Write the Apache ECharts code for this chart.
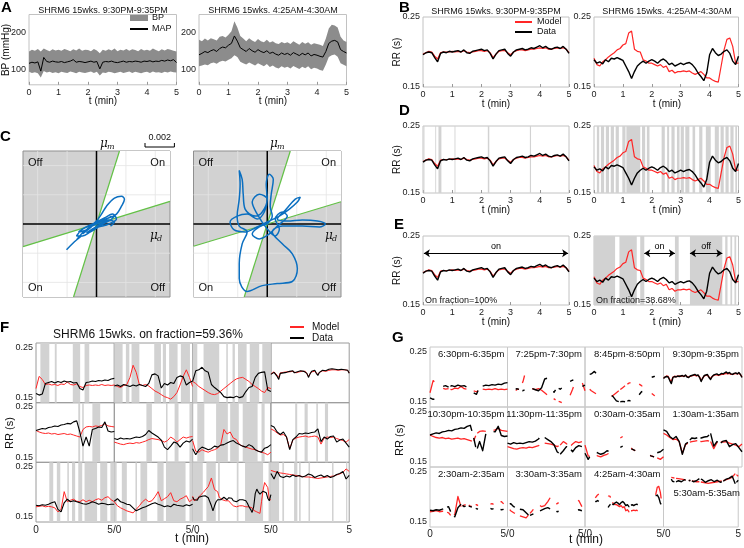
<!DOCTYPE html>
<html><head><meta charset="utf-8">
<script src="https://cdn.jsdelivr.net/npm/echarts@6/dist/echarts.min.js"></script>
<style>html,body{margin:0;padding:0;background:#fff}#c{width:744px;height:548px}</style>
</head><body><div id="c"></div>
<script>
// ================= DATA =================
// sample times (min)
const t51 = Array.from({length:51}, (_, i) => +(i * 0.1).toFixed(1));
const t26 = Array.from({length:26}, (_, i) => +(i * 0.2).toFixed(1));

// Panel A: blood pressure (mmHg)
const aMapNight = [118,121,119,122,97,134,123,121,124,122,121,123,120,122,124,128,121,123,122,120,122,124,121,123,103,121,123,122,124,121,120,122,124,121,123,122,124,123,121,124,123,125,122,124,123,126,124,127,125,128,120];
const aBpHighNight = [150,155,152,157,150,158,154,151,156,153,155,152,157,154,151,156,153,158,152,155,154,151,157,153,145,155,152,156,153,158,151,155,153,157,152,156,154,151,157,153,155,152,158,154,151,156,153,157,155,152,150];
const aBpLowNight = [95,92,94,91,80,97,93,95,92,94,91,95,93,92,96,94,91,95,93,92,94,96,92,95,85,93,92,95,94,91,93,95,92,94,96,92,95,93,91,94,95,92,96,93,94,92,95,93,96,94,93];
const aMapDawn = [141,145,150,147,152,155,150,158,162,160,167,172,192,178,160,155,150,158,152,148,155,150,147,152,145,148,143,140,146,142,145,140,147,143,139,145,141,146,138,142,140,137,135,150,172,178,180,176,155,150,146];
const aBpHighDawn = [182,178,185,180,186,183,180,190,192,188,195,205,232,215,192,185,178,186,180,176,184,178,175,182,174,178,172,170,176,172,175,170,178,173,168,176,171,175,168,172,170,168,165,185,212,222,220,215,190,180,176];
const aBpLowDawn = [110,112,115,113,118,120,117,122,125,123,128,132,140,135,122,118,115,120,116,112,118,114,110,116,108,112,107,104,110,106,109,104,111,107,103,109,105,110,102,106,104,100,98,115,135,140,142,136,118,114,110];

// Panels B/D/E: RR interval (s)
const rrDataNight = [0.196,0.199,0.200,0.199,0.192,0.186,0.198,0.200,0.199,0.201,0.200,0.201,0.202,0.200,0.203,0.199,0.198,0.201,0.202,0.203,0.204,0.202,0.203,0.198,0.190,0.197,0.202,0.203,0.204,0.198,0.194,0.200,0.203,0.204,0.205,0.203,0.204,0.206,0.205,0.207,0.209,0.206,0.208,0.205,0.204,0.206,0.207,0.205,0.208,0.204,0.198];
const rrModelNight = [0.197,0.199,0.201,0.200,0.194,0.190,0.199,0.200,0.200,0.200,0.201,0.200,0.201,0.200,0.202,0.200,0.199,0.200,0.201,0.202,0.202,0.201,0.202,0.199,0.192,0.197,0.201,0.202,0.202,0.199,0.196,0.200,0.202,0.203,0.203,0.202,0.203,0.204,0.204,0.205,0.206,0.205,0.206,0.204,0.204,0.205,0.206,0.205,0.206,0.204,0.199];
const rrDataDawn = [0.189,0.184,0.186,0.183,0.189,0.186,0.191,0.190,0.192,0.190,0.188,0.180,0.172,0.162,0.172,0.180,0.184,0.187,0.184,0.187,0.189,0.187,0.184,0.188,0.190,0.187,0.182,0.184,0.180,0.182,0.184,0.182,0.184,0.185,0.182,0.177,0.170,0.165,0.159,0.170,0.196,0.205,0.199,0.195,0.197,0.201,0.203,0.198,0.187,0.182,0.194];
const rrModelDawn = [0.191,0.182,0.180,0.186,0.189,0.193,0.196,0.199,0.203,0.205,0.210,0.212,0.227,0.230,0.204,0.201,0.200,0.189,0.187,0.184,0.184,0.182,0.180,0.182,0.178,0.180,0.172,0.174,0.170,0.172,0.172,0.173,0.172,0.173,0.170,0.168,0.170,0.172,0.168,0.163,0.163,0.160,0.158,0.157,0.180,0.203,0.218,0.220,0.208,0.184,0.184];

// Off (grey) intervals, min
const dNightOff = [[0.02,0.05],[0.42,0.45],[0.53,0.63],[1.08,1.11],[2.22,2.27],[3.66,3.70]];
const dDawnOff = [[0.10,0.18],[0.24,0.35],[0.41,0.52],[0.58,0.69],[0.75,0.86],[0.98,1.09],[1.12,1.60],[1.66,1.77],[1.83,1.92],[2.34,2.45],[2.53,2.60],[2.68,2.79],[2.87,2.96],[3.00,3.11],[3.16,3.30],[3.41,3.50],[3.64,3.75],[3.87,4.04],[4.18,4.32],[4.38,4.49],[4.55,4.66],[4.72,4.83],[4.89,4.95]];
const eNightOff = [];
const eDawnOff = [[0,0.73],[0.88,1.48],[1.60,1.74],[2.80,2.93],[3.32,4.44],[4.54,4.62],[4.72,4.78],[4.86,4.92]];
const eNightArrows = [{from:0.03, to:4.97, label:'on'}];
const eDawnArrows = [{from:1.74, to:2.80, label:'on'}, {from:3.32, to:4.44, label:'off'}];

// Panel C: phase-plane trajectories (units of 1e-3) and boundary slopes
const cNightX = [-2.04,-1.50,-1.02,-1.36,-0.82,-0.34,-0.95,-0.54,0,0.68,1.02,0.82,1.36,1.70,1.90,1.70,1.22,0.68,0.34,0,-0.41,-0.68,-1.22,-0.82,-0.27,0.34,0.82,1.22,0.95,0.54,0.14,-0.41,-0.95,-1.36,-1.02,-0.54,0,0.54,1.09,1.36,0.82,0.41,-0.14,-0.68,-0.27,0.27,0.82,1.22,0.95];
const cNightY = [-1.77,-1.22,-0.82,-1.09,-0.48,-0.20,-0.68,-0.27,0,0.34,0.54,0.41,0.68,1.22,1.70,1.90,1.77,1.22,0.68,0.20,-0.14,-0.41,-0.54,-0.27,0,0.20,0.41,0.54,0.27,0.07,-0.20,-0.54,-0.82,-0.82,-0.41,-0.14,0.14,0.41,0.68,0.34,0,-0.14,-0.27,-0.61,-0.34,0,0.27,0.14,-0.14];
const cDawnX = [0,0.34,0.20,0.27,0.41,0.14,-0.07,0,-0.20,-0.68,-1.36,-2.04,-2.52,-2.24,-1.50,-0.68,0,0.82,1.50,2.04,2.24,1.90,1.22,0.68,1.36,2.38,3.40,3.94,3.54,2.38,1.02,0.34,1.02,1.70,2.04,1.70,0.68,-0.34,-1.36,-1.90,-1.90,-1.70,-1.36,-1.90,-2.04,-1.90,-1.84,-1.90,-1.70,-1.63,-1.50,-0.82,-0.34,0,-0.54,-1.02,-0.68,0,0.54,0.82,0.54,1.02,1.36,0.68,0.14,-0.54,-1.02,-0.54,0];
const cDawnY = [0,0.54,1.22,2.04,3.06,3.40,2.72,1.70,0.82,0.34,0.68,0.54,0.14,-0.41,-0.54,-0.20,0.14,0.54,1.02,1.50,1.84,1.70,0.95,0.34,0.20,0.27,0.20,0,-0.20,-0.14,-0.14,-0.54,-1.36,-2.04,-3.06,-3.94,-4.08,-4.22,-4.62,-3.74,-2.72,-1.36,-0.54,-0.14,0.54,1.70,2.72,3.67,3.06,2.04,1.02,0.54,0.82,1.70,2.04,1.50,0.68,-0.34,-0.82,-0.34,0.34,0.82,0.54,-0.14,-0.68,-1.02,-0.68,-0.20,0];
const cSlopesNight = [3.2, 0.31];
const cSlopesDawn = [3.2, 0.305];
const cGridTicks = [-4, -2, 2, 4];

// Panels F/G: twelve 5-min recordings (RR, s), sampled every 0.2 min
const f630Data = [0.158,0.155,0.157,0.178,0.180,0.182,0.179,0.182,0.180,0.183,0.181,0.182,0.179,0.180,0.168,0.165,0.180,0.181,0.183,0.182,0.184,0.183,0.185,0.184,0.187,0.188];
const f630Model = [0.168,0.192,0.186,0.176,0.177,0.175,0.176,0.174,0.177,0.176,0.181,0.176,0.175,0.177,0.172,0.170,0.174,0.175,0.174,0.175,0.174,0.176,0.174,0.175,0.174,0.175];
const f725Data = [0.173,0.175,0.172,0.176,0.174,0.172,0.175,0.173,0.176,0.174,0.172,0.178,0.195,0.197,0.193,0.169,0.178,0.175,0.180,0.178,0.190,0.193,0.191,0.175,0.180,0.183];
const f725Model = [0.175,0.172,0.170,0.174,0.176,0.190,0.214,0.200,0.176,0.174,0.176,0.173,0.168,0.163,0.160,0.156,0.152,0.150,0.147,0.152,0.160,0.175,0.192,0.205,0.190,0.172];
const f845Data = [0.182,0.203,0.205,0.210,0.203,0.200,0.176,0.170,0.165,0.160,0.152,0.150,0.151,0.150,0.153,0.150,0.152,0.162,0.170,0.172,0.190,0.198,0.200,0.201,0.165,0.162];
const f845Model = [0.182,0.178,0.172,0.168,0.164,0.160,0.157,0.156,0.158,0.163,0.168,0.173,0.178,0.183,0.187,0.189,0.190,0.186,0.182,0.176,0.172,0.168,0.163,0.160,0.170,0.168];
const f1030Data = [0.203,0.205,0.207,0.206,0.209,0.210,0.212,0.211,0.214,0.215,0.217,0.216,0.220,0.222,0.200,0.172,0.190,0.172,0.205,0.207,0.210,0.209,0.220,0.202,0.200,0.201];
const f1030Model = [0.203,0.200,0.198,0.197,0.198,0.196,0.197,0.195,0.196,0.197,0.195,0.196,0.194,0.192,0.190,0.205,0.210,0.211,0.210,0.212,0.211,0.213,0.216,0.212,0.211,0.210];
const f1130Data = [0.187,0.185,0.188,0.186,0.187,0.186,0.188,0.190,0.189,0.191,0.195,0.203,0.198,0.194,0.190,0.184,0.170,0.165,0.172,0.180,0.178,0.170,0.178,0.182,0.180,0.186];
const f1130Model = [0.180,0.178,0.176,0.175,0.177,0.178,0.177,0.179,0.178,0.180,0.182,0.185,0.187,0.186,0.185,0.183,0.180,0.183,0.190,0.186,0.180,0.185,0.190,0.188,0.190,0.191];
const f030Data = [0.167,0.155,0.165,0.170,0.168,0.165,0.167,0.172,0.170,0.174,0.175,0.178,0.181,0.183,0.178,0.175,0.172,0.170,0.175,0.172,0.165,0.162,0.160,0.168,0.170,0.175];
const f030Model = [0.183,0.162,0.160,0.165,0.162,0.160,0.163,0.165,0.168,0.175,0.205,0.196,0.200,0.188,0.185,0.175,0.172,0.170,0.168,0.166,0.165,0.162,0.160,0.158,0.155,0.160];
const f130Data = [0.213,0.210,0.200,0.195,0.200,0.190,0.165,0.185,0.190,0.197,0.196,0.198,0.197,0.199,0.200,0.206,0.181,0.190,0.186,0.191,0.192,0.180,0.184,0.186,0.178,0.170];
const f130Model = [0.206,0.203,0.198,0.194,0.195,0.190,0.167,0.184,0.188,0.190,0.191,0.192,0.190,0.191,0.192,0.190,0.176,0.188,0.190,0.189,0.190,0.187,0.185,0.183,0.180,0.185];
const f230Data = [0.173,0.172,0.174,0.173,0.175,0.178,0.180,0.165,0.160,0.178,0.185,0.180,0.182,0.180,0.178,0.176,0.175,0.177,0.180,0.178,0.175,0.177,0.176,0.174,0.175,0.175];
const f230Model = [0.170,0.171,0.172,0.170,0.171,0.170,0.168,0.160,0.165,0.200,0.180,0.183,0.185,0.181,0.180,0.184,0.180,0.183,0.180,0.184,0.186,0.183,0.188,0.190,0.184,0.180];
const f330Data = [0.181,0.186,0.180,0.178,0.175,0.174,0.168,0.162,0.165,0.168,0.170,0.173,0.176,0.178,0.175,0.173,0.170,0.172,0.170,0.175,0.173,0.172,0.171,0.174,0.172,0.175];
const f330Model = [0.180,0.172,0.168,0.165,0.162,0.160,0.158,0.165,0.172,0.180,0.185,0.180,0.182,0.190,0.200,0.182,0.186,0.190,0.198,0.182,0.180,0.185,0.188,0.192,0.180,0.185];
const f530Data = [0.236,0.225,0.240,0.230,0.228,0.231,0.229,0.233,0.230,0.232,0.229,0.231,0.235,0.233,0.228,0.231,0.233,0.229,0.232,0.228,0.230,0.234,0.236,0.240,0.225,0.232];
const f530Model = [0.242,0.240,0.238,0.237,0.236,0.235,0.234,0.233,0.232,0.231,0.230,0.229,0.229,0.228,0.227,0.226,0.227,0.228,0.229,0.230,0.231,0.233,0.235,0.238,0.245,0.240];

// "On" intervals per recording (min)
const on630 = [[0,0.28],[0.85,1.2],[1.32,2.35],[2.82,3.1],[3.4,5]];
const on725 = [[0.53,0.74],[0.96,1.1],[1.6,2.55],[2.98,3.1],[3.3,3.5],[4.04,4.25],[4.83,5]];
const on845 = [[0.3,0.7],[1.7,2.15],[2.25,2.55],[2.7,2.9],[3.45,3.65],[4.25,4.45]];
const on930 = [[0,5]];
const on1030 = [[0,2.7],[2.82,2.95],[3.05,3.6],[4.1,5]];
const on1130 = [[0,2.05],[2.4,3.3],[3.4,3.85],[4.1,4.8]];
const on030 = [[0,0.3],[0.75,1.5],[2.25,2.4],[2.95,3.2],[4.15,4.4],[4.6,5]];
const on130 = [[0,1.55],[1.68,2.15],[2.35,2.9],[3.0,3.45],[3.65,5]];
const on230 = [[0,0.85],[1.1,1.33],[1.55,2.0],[2.1,2.3],[2.5,2.7],[2.95,3.1],[3.9,4.1],[4.55,4.75]];
const on330 = [[0.15,0.48],[0.8,1.35],[1.45,1.67],[2.1,2.75],[3.15,3.3],[4.55,4.8]];
const on425 = [[0.65,0.88],[1.48,1.62],[1.74,2.82],[2.93,3.35],[4.5,4.85]];
const on530 = [[0.52,0.73],[0.84,1.48],[1.69,1.8],[1.9,2.4],[2.5,3.9],[4.0,4.8],[4.88,5]];
const recLabels = ['6:30pm-6:35pm','7:25pm-7:30pm','8:45pm-8:50pm','9:30pm-9:35pm','10:30pm-10:35pm','11:30pm-11:35pm','0:30am-0:35am','1:30am-1:35am','2:30am-2:35am','3:30am-3:35am','4:25am-4:30am','5:30am-5:35am'];

// ================= STYLE / LAYOUT =================
const FONT = '"Liberation Sans", Arial, Helvetica, sans-serif';
const GREY = '#d2d2d2', BOX = '#c2c2c2', LBL = '#222', RED = '#ff2626', BLACK = '#000', BLUE = '#0b6fc0', GREEN = '#63c146', BPGREY = '#8c8c8c';

const grid = [], xAxis = [], yAxis = [], series = [], graphic = [];

function addGrid(rect, xa, ya, extra) {
  const gi = grid.length;
  grid.push(Object.assign({left: rect[0], top: rect[1], width: rect[2], height: rect[3], show: true,
    borderColor: BOX, borderWidth: 1, backgroundColor: 'rgba(0,0,0,0)'}, extra || {}));
  const base = {gridIndex: gi, type: 'value', axisLine: {show: false}, splitLine: {show: false},
    axisTick: {show: false}, axisLabel: {show: false}};
  xAxis.push(Object.assign({}, base, xa || {}));
  yAxis.push(Object.assign({}, base, ya || {}));
  return gi;
}
function tAxis(show, fmt, size, margin) {
  return {min: 0, max: 5, interval: fmt ? 5 : 1,
    axisTick: {show: !fmt, inside: true, length: 3, lineStyle: {color: '#999'}},
    axisLabel: {show: show, fontSize: size || 9, color: LBL, margin: margin == null ? 3 : margin, fontFamily: FONT, formatter: fmt}};
}
function rrAxis(show, min, max, size) {
  return {min: min, max: max, interval: 0.01,
    axisLabel: {show: show, fontSize: size || 9, color: LBL, margin: 3, fontFamily: FONT,
      formatter: v => { const s = v.toFixed(2); return (s === '0.15' || s === '0.25') ? s : ''; }}};
}
function addLine(gi, t, vals, color, width, z, extra) {
  series.push(Object.assign({type: 'line', xAxisIndex: gi, yAxisIndex: gi, data: vals.map((v, i) => [t[i], v]),
    symbol: 'none', showSymbol: false, lineStyle: {color: color, width: width}, itemStyle: {color: color},
    z: z || 3, silent: true, animation: false}, extra || {}));
  return series.length - 1;
}
// line drawn only inside the given "on" intervals (polyline clipped in pixel space)
function addClippedLine(gi, t, vals, on, color, width, z) {
  series.push({type: 'custom', xAxisIndex: gi, yAxisIndex: gi, z: z, silent: true, animation: false,
    data: vals.map((v, i) => [t[i], v]),
    renderItem: function (params, api) {
      if (params.dataIndexInside !== 0) return null;
      const n = params.dataInsideLength, pts = [];
      for (let i = 0; i < n; i++) pts.push(api.coord([api.value(0, i), api.value(1, i)]));
      const children = [];
      on.forEach(iv => {
        const xa = api.coord([iv[0], 0.2])[0], xb = api.coord([iv[1], 0.2])[0];
        const seg = [];
        for (let i = 0; i < n - 1; i++) {
          const p = pts[i], q = pts[i + 1];
          if (q[0] < xa || p[0] > xb) continue;
          const cut = x => [x, p[1] + (q[1] - p[1]) * (x - p[0]) / (q[0] - p[0])];
          const s = p[0] < xa ? cut(xa) : p;
          const e = q[0] > xb ? cut(xb) : q;
          if (!seg.length) seg.push(s);
          seg.push(e);
        }
        if (seg.length > 1) children.push({type: 'polyline', shape: {points: seg},
          style: {stroke: color, lineWidth: width, fill: null, lineJoin: 'round'}});
      });
      return {type: 'group', children: children};
    }});
}
function addShade(gi, ivs) {
  if (!ivs.length) return;
  series.push({type: 'line', xAxisIndex: gi, yAxisIndex: gi, data: [], z: 1, silent: true, animation: false,
    markArea: {silent: true, animation: false, itemStyle: {color: GREY},
      data: ivs.map(iv => [{xAxis: iv[0]}, {xAxis: iv[1]}])}});
}
function addBand(gi, t, low, high, color) {
  series.push({type: 'custom', xAxisIndex: gi, yAxisIndex: gi, z: 2, silent: true, animation: false,
    data: t.map((x, i) => [x, low[i], high[i]]), encode: {x: 0, y: [1, 2]},
    renderItem: function (params, api) {
      if (params.dataIndexInside !== 0) return null;
      const n = params.dataInsideLength, pts = [];
      for (let i = 0; i < n; i++) pts.push(api.coord([api.value(0, i), api.value(2, i)]));
      for (let i = n - 1; i >= 0; i--) pts.push(api.coord([api.value(0, i), api.value(1, i)]));
      return {type: 'polygon', shape: {points: pts}, style: {fill: color}};
    }});
}
function addArrows(gi, arrows, y) {
  series.push({type: 'line', xAxisIndex: gi, yAxisIndex: gi, data: [], z: 5, silent: true, animation: false,
    markLine: {silent: true, animation: false, symbol: ['arrow', 'arrow'], symbolSize: 6,
      lineStyle: {color: '#000', width: 1, type: 'solid'},
      label: {show: true, position: 'middle', color: '#000', fontSize: 9, fontFamily: FONT, distance: 2, formatter: '{b}'},
      emphasis: {disabled: true},
      data: arrows.map(a => [{coord: [a.from, y], name: a.label}, {coord: [a.to, y]}])}});
}
function complement(ivs) {
  const out = []; let cur = 0;
  ivs.forEach(iv => { if (iv[0] > cur) out.push([cur, iv[0]]); cur = Math.max(cur, iv[1]); });
  if (cur < 5) out.push([cur, 5]);
  return out;
}
function txt(x, y, s, o) {
  const st = Object.assign({text: s, fontFamily: FONT, fontSize: 9, fill: '#111', align: 'left', verticalAlign: 'middle'}, o || {});
  st.textAlign = st.align; st.textVerticalAlign = st.verticalAlign;
  const el = {type: 'text', x: x, y: y, silent: true, z: 100, style: st};
  if (o && o.rot) el.rotation = o.rot;
  graphic.push(el);
}
function vtxt(x, y, s, size) { txt(x, y, s, {align: 'center', fontSize: size || 9, rot: Math.PI / 2}); }
function hline(x1, y1, x2, y2, color, w) {
  graphic.push({type: 'line', silent: true, z: 100, shape: {x1: x1, y1: y1, x2: x2, y2: y2}, style: {stroke: color, lineWidth: w}});
}
function letter(x, y, s) { txt(x, y, s, {fontSize: 15, fontWeight: 'bold', fill: '#000'}); }

// ---------- Panel A ----------
[[29, aMapNight, aBpLowNight, aBpHighNight, 'SHRM6 15wks. 9:30PM-9:35PM', 103],
 [199, aMapDawn, aBpLowDawn, aBpHighDawn, 'SHRM6 15wks. 4:25AM-4:30AM', 273]].forEach(p => {
  const gi = addGrid([p[0], 14.5, 147.5, 70.3], tAxis(true, null, 9, 3),
    {min: 60, max: 250, interval: 10, axisLabel: {show: true, fontSize: 9, color: LBL, margin: 3, fontFamily: FONT,
      formatter: v => (v === 100 || v === 200) ? String(v) : ''}});
  addBand(gi, t51, p[2], p[3], BPGREY);
  addLine(gi, t51, p[1], BLACK, 1, 4);
  txt(p[5], 11, p[4], {align: 'center', fontSize: 9});
  txt(p[5], 101, 't (min)', {align: 'center', fontSize: 10});
});
vtxt(6, 50, 'BP (mmHg)', 10);
graphic.push({type: 'rect', silent: true, z: 100, shape: {x: 130, y: 15, width: 18, height: 6}, style: {fill: BPGREY}});
txt(152, 18, 'BP', {fontSize: 9});
hline(130, 29, 148, 29, BLACK, 2);
txt(152, 29, 'MAP', {fontSize: 9});
letter(1, 8, 'A');

// ---------- Panels B, D, E ----------
const BX = [423, 594], BW = 146;
const rows = [
  {top: 17, h: 70, offs: [[], []]},
  {top: 126, h: 67, offs: [dNightOff, dDawnOff]},
  {top: 236, h: 69, offs: [eNightOff, eDawnOff]}
];
rows.forEach((rw, ri) => {
  [0, 1].forEach(side => {
    const gi = addGrid([BX[side], rw.top, BW, rw.h], tAxis(true, null, 9, 3),
      {min: 0.15, max: 0.25, interval: 0.1, axisLabel: {show: true, fontSize: 9, color: LBL, margin: 3, fontFamily: FONT,
        formatter: v => { const s = v.toFixed(2); return (s === '0.15' || s === '0.25') ? s : ''; }}});
    addShade(gi, rw.offs[side]);
    addLine(gi, t51, side ? rrModelDawn : rrModelNight, RED, 1.2, 3);
    addLine(gi, t51, side ? rrDataDawn : rrDataNight, BLACK, 1.4, 4);
    if (ri === 2) addArrows(gi, side ? eDawnArrows : eNightArrows, 0.225);
    txt(BX[side] + BW / 2, rw.top + rw.h + 17, 't (min)', {align: 'center', fontSize: 10});
  });
  vtxt(397, rw.top + rw.h / 2, 'RR (s)', 10);
});
txt(496, 12, 'SHRM6 15wks. 9:30PM-9:35PM', {align: 'center'});
txt(667, 12, 'SHRM6 15wks. 4:25AM-4:30AM', {align: 'center'});
hline(515, 22, 532, 22, RED, 2); txt(537, 22, 'Model');
hline(515, 32, 532, 32, BLACK, 2); txt(537, 32, 'Data');
txt(425, 301, 'On fraction=100%', {fontSize: 9});
txt(596, 301, 'On fraction=38.68%', {fontSize: 9});
letter(399, 8, 'B'); letter(399, 111, 'D'); letter(394, 225, 'E');

// ---------- Panel C ----------
const C_LIM = 5;
function addPhase(rect, tx, ty, slopes) {
  const gi = addGrid(rect, {min: -C_LIM, max: C_LIM}, {min: -C_LIM, max: C_LIM}, {backgroundColor: GREY, borderColor: '#8f8f8f'});
  series.push({type: 'custom', xAxisIndex: gi, yAxisIndex: gi, z: 1, silent: true, animation: false, data: [slopes],
    renderItem: function (params, api) {
      const s1 = api.value(0), s2 = api.value(1), L = C_LIM;
      const q = sg => [[0, 0], [sg * L / s1, sg * L], [sg * L, sg * L], [sg * L, sg * s2 * L]].map(pt => api.coord(pt));
      return {type: 'group', children: [
        {type: 'polygon', shape: {points: q(1)}, style: {fill: '#fff'}},
        {type: 'polygon', shape: {points: q(-1)}, style: {fill: '#fff'}}]};
    }});
  cGridTicks.forEach(v => {
    addLine(gi, [v, v], [-C_LIM, C_LIM], '#e4e4e4', 0.8, 2);
    addLine(gi, [-C_LIM, C_LIM], [v, v], '#e4e4e4', 0.8, 2);
  });
  addLine(gi, [-C_LIM, C_LIM], [0, 0], BLACK, 1.5, 3);
  addLine(gi, [0, 0], [-C_LIM, C_LIM], BLACK, 1.5, 3);
  addLine(gi, [-C_LIM / slopes[0], C_LIM / slopes[0]], [-C_LIM, C_LIM], GREEN, 1.2, 4);
  addLine(gi, [-C_LIM, C_LIM], [-C_LIM * slopes[1], C_LIM * slopes[1]], GREEN, 1.2, 4);
  addLine(gi, tx, ty, BLUE, 1.5, 5, {smooth: 0.35});
  return gi;
}
const cL = addPhase([23, 151, 147, 146], cNightX, cNightY, cSlopesNight);
const cR = addPhase([193.5, 151, 147.5, 146], cDawnX, cDawnY, cSlopesDawn);
[[23, 170], [193.5, 341]].forEach(p => {
  txt(p[0] + 5, 163, 'Off', {fontSize: 11}); txt(p[1] - 5, 163, 'On', {fontSize: 11, align: 'right'});
  txt(p[0] + 5, 288, 'On', {fontSize: 11}); txt(p[1] - 5, 288, 'Off', {fontSize: 11, align: 'right'});
});
function mu(x, y, sub) {
  txt(x, y, 'μ', {fontSize: 12, fontStyle: 'italic', fontFamily: '"DejaVu Serif", serif'});
  txt(x + 7, y + 3, sub, {fontSize: 8, fontStyle: 'italic', fontFamily: '"DejaVu Serif", serif'});
}
mu(100, 144, 'm'); mu(150, 236, 'd'); mu(270, 144, 'm'); mu(325, 236, 'd');
letter(0, 137, 'C');

// ---------- Panels F and G ----------
const recs = [
  [t26, f630Data, f630Model, on630], [t26, f725Data, f725Model, on725], [t26, f845Data, f845Model, on845], [t51, rrDataNight, rrModelNight, on930],
  [t26, f1030Data, f1030Model, on1030], [t26, f1130Data, f1130Model, on1130], [t26, f030Data, f030Model, on030], [t26, f130Data, f130Model, on130],
  [t26, f230Data, f230Model, on230], [t26, f330Data, f330Model, on330], [t51, rrDataDawn, rrModelDawn, on425], [t26, f530Data, f530Model, on530]
];
const FX = [36, 114.3, 192.6, 270.9, 349.2], FY = [343, 402.7, 462.3, 522];
const GX = [430, 507.5, 585, 663.5, 742], GY = [347, 407, 467, 527];
const colFmt = c => (v => v === 0 ? (c === 0 ? '0' : '') : (c === 3 ? '5' : '5/0'));
recs.forEach((rec, k) => {
  const r = Math.floor(k / 4), c = k % 4;
  // F
  const fi = addGrid([FX[c], FY[r], FX[c + 1] - FX[c], FY[r + 1] - FY[r]],
    tAxis(r === 2, colFmt(c), 10, 3), rrAxis(c === 0, 0.14, 0.258, 9), {borderColor: '#9a9a9a'});
  addShade(fi, complement(rec[3]));
  addLine(fi, rec[0], rec[2], RED, 1, 3);
  addLine(fi, rec[0], rec[1], BLACK, 1.1, 4);
  // G
  const gj = addGrid([GX[c], GY[r], GX[c + 1] - GX[c], GY[r + 1] - GY[r]],
    tAxis(r === 2, colFmt(c), 10, 2), rrAxis(c === 0, 0.14, 0.258, 9), {borderColor: '#c8c8c8'});
  addClippedLine(gj, rec[0], rec[2], rec[3], RED, 1.3, 3);
  addClippedLine(gj, rec[0], rec[1], rec[3], BLACK, 1.4, 4);
  if (k === 11) txt(GX[4] - 2, 493, recLabels[k], {align: 'right', fontSize: 9.5});
  else txt(GX[c + 1] - 3, GY[r] + 7, recLabels[k], {align: 'right', fontSize: 9.5});
});
txt(148, 335, 'SHRM6 15wks. on fraction=59.36%', {align: 'center', fontSize: 12});
hline(290, 327, 304, 327, RED, 2); txt(312, 327, 'Model', {fontSize: 10});
hline(290, 338, 304, 338, BLACK, 2); txt(312, 338, 'Data', {fontSize: 10});
vtxt(10, 433, 'RR (s)', 11);
txt(192, 539, 't (min)', {align: 'center', fontSize: 12});
vtxt(400, 440, 'RR (s)', 11);
txt(586, 540, 't (min)', {align: 'center', fontSize: 12});
letter(0, 328, 'F'); letter(392, 338, 'G');

// ================= RENDER =================
const chart = echarts.init(document.getElementById('c'), null, {renderer: 'canvas'});
chart.setOption({animation: false, backgroundColor: '#fff', textStyle: {fontFamily: FONT},
  grid, xAxis, yAxis, series, graphic: []});
// scale bar for panel C (length = 0.002 in data units, converted through the axis)
const p0 = chart.convertToPixel({gridIndex: cL}, [0, 0]);
const p2 = chart.convertToPixel({gridIndex: cL}, [2, 0]);
const barLen = p2[0] - p0[0];
const bx = 145, by = 147;
hline(bx, by, bx + barLen, by, '#000', 1);
hline(bx, by, bx, by - 4, '#000', 1);
hline(bx + barLen, by, bx + barLen, by - 4, '#000', 1);
txt(bx + barLen / 2, 138, '0.002', {align: 'center', fontSize: 9});
chart.setOption({graphic: graphic});
</script></body></html>
